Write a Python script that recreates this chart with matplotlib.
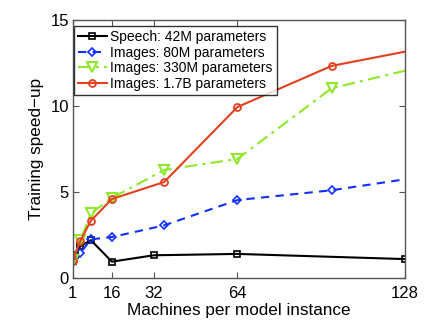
import matplotlib
matplotlib.use("Agg")
import matplotlib.pyplot as plt

plt.rcParams['font.family'] = ['Liberation Sans', 'DejaVu Sans']

speech_x = [1, 2, 4, 8, 16, 32, 64, 128]
speech_y = [1.0, 1.35, 1.85, 2.2, 0.95, 1.32, 1.4, 1.1]

img80_x = [1, 4, 8, 16, 36, 64, 100, 144]
img80_y = [1.0, 1.45, 2.25, 2.38, 3.06, 4.53, 5.1, 6.1]

img330_x = [1, 4, 8, 16, 36, 64, 100, 144]
img330_y = [1.05, 2.2, 3.76, 4.65, 6.28, 6.92, 11.03, 12.63]

img17_x = [1, 4, 8, 16, 36, 64, 100, 144]
img17_y = [1.0, 2.17, 3.33, 4.59, 5.58, 9.94, 12.33, 13.63]

labels = ["Speech: 42M parameters", "Images: 80M parameters",
          "Images: 330M parameters", "Images: 1.7B parameters"]
xticks = [1, 16, 32, 64, 128]
yticks = [0, 5, 10, 15]

fig = plt.figure(figsize=(4.41, 3.30), dpi=100)
ax = fig.add_axes([0.1646, 0.1576, 0.7534, 0.7818])

ax.plot(speech_x, speech_y, color='black', lw=1.5, marker='s', ms=4,
        mfc='none', mew=1.2, label=labels[0])
ax.plot(img80_x, img80_y, color='#1030ff', lw=1.5, ls=(0, (4, 3)), marker='D',
        ms=4.5, mfc='none', mew=1.2, label=labels[1])
ax.plot(img330_x, img330_y, color='#8ee82a', lw=1.5, ls=(0, (6, 2.5, 1.5, 2.5)),
        marker='v', ms=6.5, mfc='none', mew=1.5, label=labels[2])
ax.plot(img17_x, img17_y, color='#e2401f', lw=1.5, marker='o', ms=5,
        mfc='none', mew=1.3, label=labels[3])

ax.set_xlim(1, 128)
ax.set_ylim(0, 15)
ax.set_xticks(xticks)
ax.set_yticks(yticks)
ax.tick_params(direction='in', top=True, right=True, length=4, labelsize=12,
               color='#555555')
ax.tick_params(axis='x', pad=6)
ax.tick_params(axis='y', pad=2.5)
for s in ax.spines.values():
    s.set_color('#555555')
    s.set_linewidth(1.0)

ax.set_xlabel("Machines per model instance", fontsize=12.3, labelpad=1)
ax.set_ylabel("Training speed\u2212up", fontsize=12.3, labelpad=5)

leg = ax.legend(loc='upper left', bbox_to_anchor=(0.003, 0.976),
                borderaxespad=0, fontsize=10, frameon=True, fancybox=False,
                handlelength=2.1, handletextpad=0.25,
                labelspacing=0.1, borderpad=0.3)
leg.get_frame().set_edgecolor('black')
leg.get_frame().set_linewidth(1.0)

fig.savefig("out.png", dpi=100)
